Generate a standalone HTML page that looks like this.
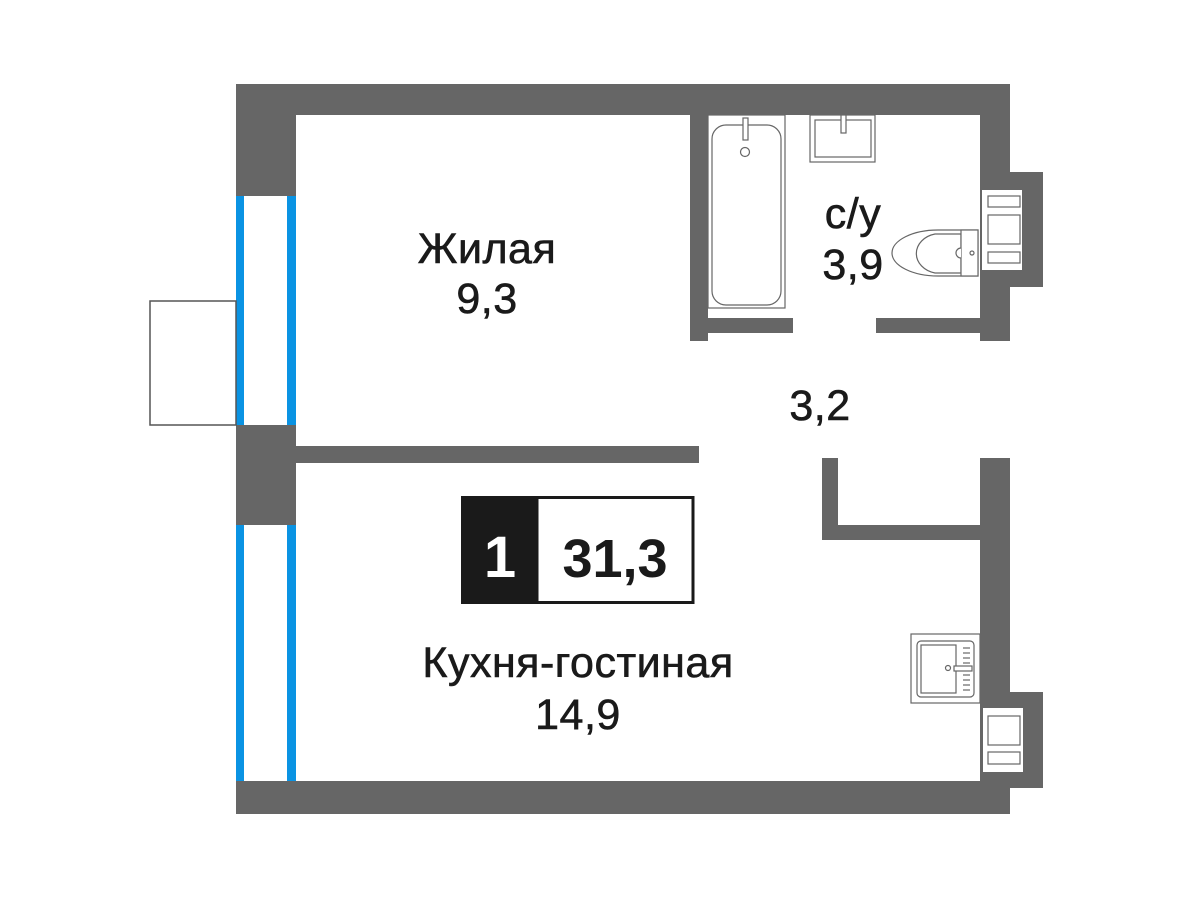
<!DOCTYPE html>
<html><head><meta charset="utf-8"><style>
html,body{margin:0;padding:0;background:#fff;}
svg{display:block;}
text{font-family:"Liberation Sans",sans-serif;fill:#1a1a1a;}
</style></head><body>
<svg width="1200" height="900" viewBox="0 0 1200 900">
<g fill="#666">
<rect x="236" y="84" width="774" height="31"/>
<rect x="236" y="84" width="60" height="112"/>
<rect x="236" y="425" width="60" height="100"/>
<rect x="296" y="446" width="403" height="17"/>
<rect x="236" y="781" width="774" height="33"/>
<rect x="690" y="115" width="18" height="226"/>
<rect x="708" y="318" width="85" height="15"/>
<rect x="876" y="318" width="104" height="15"/>
<rect x="980" y="84" width="30" height="257"/>
<rect x="1010" y="172" width="33" height="115"/>
<rect x="980" y="458" width="30" height="356"/>
<rect x="822" y="458" width="16" height="82"/>
<rect x="822" y="525" width="158" height="15"/>
<rect x="1010" y="692" width="33" height="96"/>
</g>
<g fill="#0a93e3">
<rect x="236" y="196" width="8" height="229"/>
<rect x="287" y="196" width="9" height="229"/>
<rect x="236" y="525" width="8" height="256"/>
<rect x="287" y="525" width="9" height="256"/>
</g>
<rect x="150" y="301" width="86" height="124" fill="none" stroke="#555" stroke-width="1.5"/>
<g fill="#fff" stroke="#666" stroke-width="1.2">
<rect x="708" y="115" width="77" height="193"/>
<rect x="712" y="125" width="69" height="180" rx="14"/>
<rect x="743" y="118" width="5" height="22"/>
<circle cx="745" cy="152" r="4.5"/>
<rect x="810" y="115" width="65" height="47"/>
<rect x="815" y="120" width="56" height="37"/>
<rect x="841" y="115" width="5" height="18"/>
<rect x="982" y="190" width="40" height="80" stroke="none"/>
<rect x="988" y="196" width="32" height="11"/>
<rect x="988" y="215" width="32" height="29"/>
<rect x="988" y="252" width="32" height="11"/>
<path d="M978,230 H938 A38,19 0 0 0 938,276 H978 Z"/>
<path d="M961,234 H935 A24,20 0 0 0 935,273 H961 Z"/>
<rect x="961" y="230" width="17" height="46"/>
<circle cx="972" cy="253" r="2"/>
<path d="M961,248 a5,5 0 0 0 0,10"/>
<rect x="911" y="634" width="69" height="69"/>
<rect x="917" y="641" width="57" height="56" rx="4"/>
<rect x="921" y="645" width="35" height="48"/>
<rect x="954" y="666" width="18" height="5"/>
<circle cx="948" cy="668" r="2.5"/>
<rect x="983" y="708" width="40" height="64" stroke="none"/>
<rect x="988" y="716" width="32" height="29"/>
<rect x="988" y="752" width="32" height="12"/>
</g>
<g stroke="#666" stroke-width="1.2">
<line x1="963" y1="648" x2="970" y2="648"/><line x1="963" y1="653" x2="970" y2="653"/><line x1="963" y1="658" x2="970" y2="658"/><line x1="963" y1="663" x2="970" y2="663"/>
<line x1="963" y1="675" x2="970" y2="675"/><line x1="963" y1="680" x2="970" y2="680"/><line x1="963" y1="685" x2="970" y2="685"/><line x1="963" y1="690" x2="970" y2="690"/>
</g>
<g font-size="43" text-anchor="middle" letter-spacing="0.5" style="stroke:#1a1a1a;stroke-width:0.6">
<text x="487" y="263">Жилая</text>
<text x="487" y="313">9,3</text>
<text x="853" y="228">с/у</text>
<text x="853" y="279">3,9</text>
<text x="820" y="420">3,2</text>
<text x="578" y="677">Кухня-гостиная</text>
<text x="578" y="729">14,9</text>
</g>
<rect x="461" y="496" width="76" height="108" fill="#1a1a1a"/>
<rect x="537" y="497.5" width="156" height="105" fill="#fff" stroke="#1a1a1a" stroke-width="3"/>
<text x="500" y="577" font-size="58" font-weight="bold" text-anchor="middle" style="fill:#fff">1</text>
<text x="615" y="577" font-size="54" font-weight="bold" text-anchor="middle">31,3</text>
</svg>
</body></html>
